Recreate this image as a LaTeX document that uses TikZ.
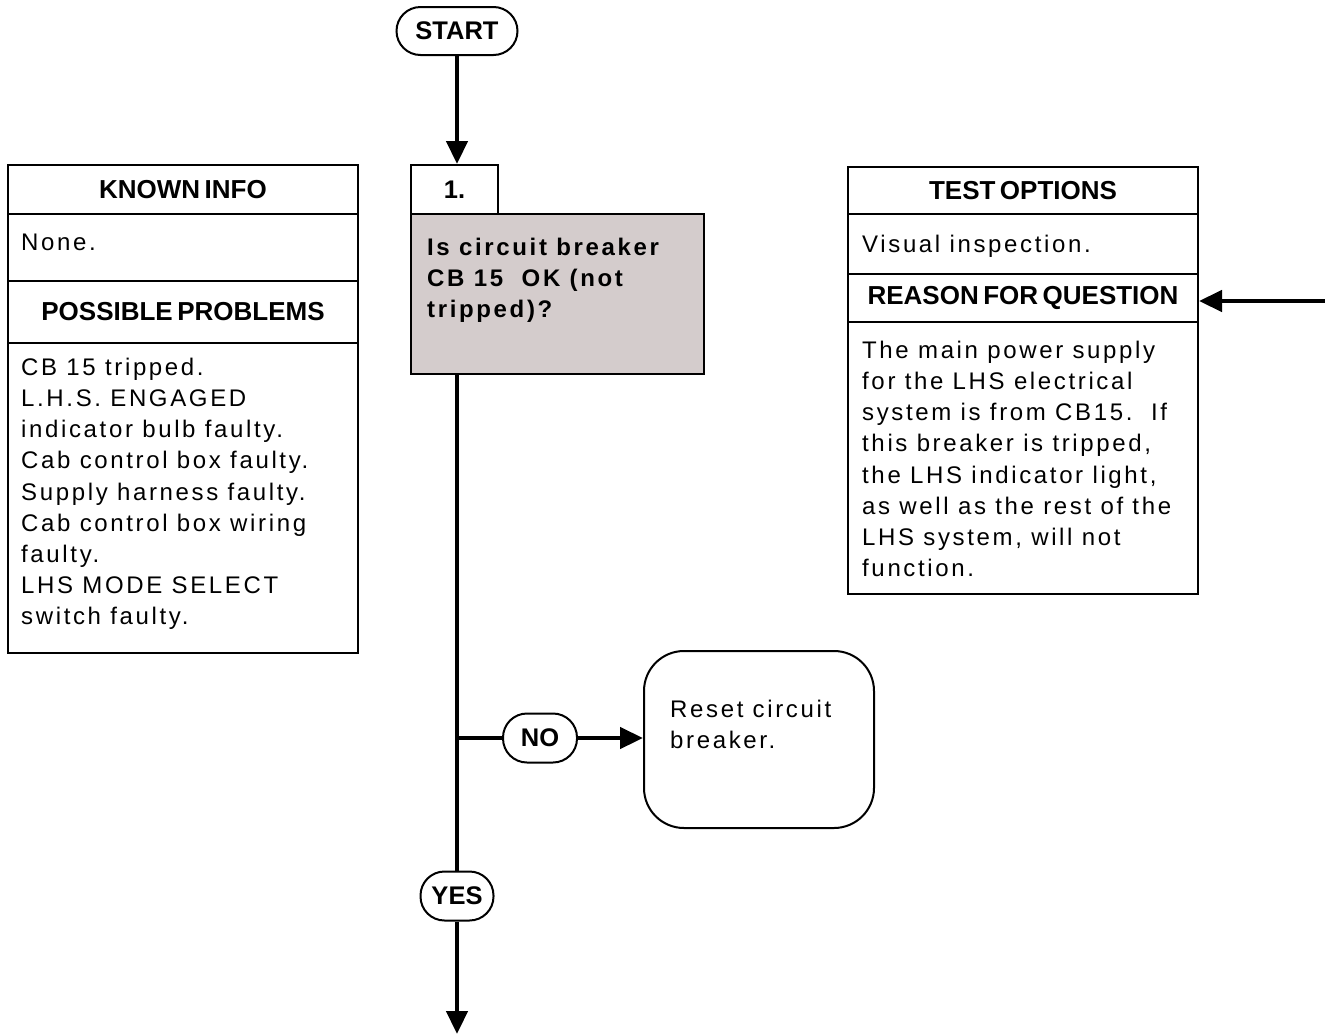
\documentclass[tikz,border=0pt]{standalone}
\usepackage{fontspec}
\setmainfont{Liberation Sans}
\newfontfamily\bodyfont[LetterSpace=11]{Liberation Sans}
\usetikzlibrary{arrows.meta}
\definecolor{qgrey}{RGB}{212,204,204}
\newcommand\headtext{\fontsize{26}{30}\selectfont\bfseries\spaceskip=4.5pt\relax}
\newcommand\termtext{\fontsize{25.5}{30}\selectfont\bfseries}
\newcommand\bodytext{\bodyfont\fontsize{24}{31.2}\selectfont}
\tikzset{
  box/.style={draw, line width=2pt, inner sep=0pt, anchor=north west},
  term/.style={draw, line width=2pt, inner sep=0pt, font=\termtext},
  head/.style={font=\headtext, inner sep=0pt},
  body/.style={font=\bodytext, align=left, inner sep=0pt, anchor=north west},
  flow/.style={line width=4.5pt},
  arr/.style={flow, -{Triangle[width=21pt,length=23pt]}},
}
\begin{document}
\begin{tikzpicture}[x=1pt,y=-1pt]
\useasboundingbox (0,0) rectangle (1325,1034);

% left panel
\node[box, minimum width=350pt, minimum height=49pt] (khead) at (7,164) {};
\node[box, minimum width=350pt, minimum height=67pt] (kbody) at (7,213) {};
\node[box, minimum width=350pt, minimum height=62pt] (phead) at (7,280) {};
\node[box, minimum width=350pt, minimum height=310pt] (pbody) at (7,342) {};
\node[head] (khtext) at (khead.center) {KNOWN INFO};
\node[body] (kbtext) at (21,233.7) {None.};
\node[head] (phtext) at (phead.center) {POSSIBLE PROBLEMS};
\node[body] (pbtext) at (21,357.7) {CB 15 tripped.\\L.H.S. ENGAGED\\indicator bulb faulty.\\Cab control box faulty.\\Supply harness faulty.\\Cab control box wiring\\faulty.\\LHS MODE SELECT\\switch faulty.};

% right panel
\node[box, minimum width=350pt, minimum height=47pt] (thead) at (847,166) {};
\node[box, minimum width=350pt, minimum height=60pt] (tbody) at (847,213) {};
\node[box, minimum width=350pt, minimum height=48pt] (rhead) at (847,273) {};
\node[box, minimum width=350pt, minimum height=272pt] (rbody) at (847,321) {};
\node[head] (thtext) at (thead.center) {TEST OPTIONS};
\node[body] (tbtext) at (862,234.7) {Visual inspection.};
\node[head] (rhtext) at (rhead.center) {REASON FOR QUESTION};
\node[body] (rbtext) at (862,340.7) {The main power supply\\for the LHS electrical\\system is from CB15.\ \ If\\this breaker is tripped,\\the LHS indicator light,\\as well as the rest of the\\LHS system, will not\\function.};

% question
\node[box, minimum width=87pt, minimum height=49pt] (num) at (410,164) {};
\node[term, draw=none] (numtext) at (num.center) {1.};
\node[box, fill=qgrey, minimum width=293pt, minimum height=160pt] (q) at (410,213) {};
\node[body, font=\bodytext\bfseries] (qtext) at (427,237.7) {Is circuit breaker\\CB 15\ \ OK (not\\tripped)?};

% terminals
\node[term, rounded corners=24pt, minimum width=121pt, minimum height=48pt] (start) at (457,31) {START};
\node[term, rounded corners=24pt, minimum width=74pt, minimum height=49pt] (no) at (540,738) {NO};
\node[term, rounded corners=24pt, minimum width=73pt, minimum height=49pt] (yes) at (457,896) {YES};
\node[box, rounded corners=40pt, minimum width=230pt, minimum height=177pt] (reset) at (643,650) {};
\node[body] (resettext) at (670,699.7) {Reset circuit\\breaker.};

% connectors
\coordinate (br) at (457,738);
\coordinate (bottom) at (457,1034);
\coordinate (rin) at (1325,301);
\draw[arr] (start.south) -- (start.south |- num.north);
\draw[flow] (q.south -| yes.north) -- (yes.north);
\draw[flow] (br) -- (no.west);
\draw[arr] (no.east) -- (no.east -| reset.west);
\draw[arr] (yes.south) -- (bottom);
\draw[arr] (rin) -- (rin -| rhead.east);
\end{tikzpicture}
\end{document}
